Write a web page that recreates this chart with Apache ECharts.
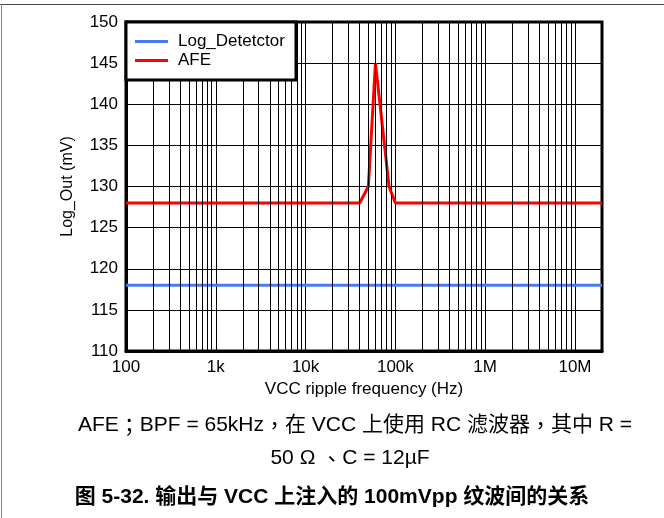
<!DOCTYPE html>
<html>
<head>
<meta charset="utf-8">
<script src="https://cdn.jsdelivr.net/npm/echarts@6/dist/echarts.min.js"></script>
<style>
html,body{margin:0;padding:0;background:#fff;}
#c{width:664px;height:518px;}
</style>
</head>
<body>
<div id="c"></div>
<script>
// ---- data ----
const xDecades = [100, 1000, 10000, 100000, 1000000, 10000000];
const xTickLabels = ['100', '1k', '10k', '100k', '1M', '10M'];
const xMin = 100, xMax = 20000000;
const yMin = 110, yMax = 150, yStep = 5;

const logDetFreq = [100, 20000000];
const logDetValues = [118, 118];

const afeFreq = [100, 40000, 50000, 60000, 85000, 100000, 20000000];
const afeValues = [128, 128, 130, 145, 130, 128, 128];

const seriesNames = ['Log_Detetctor', 'AFE'];
const captionLine1 = 'AFE；BPF = 65kHz，在 VCC 上使用 RC 滤波器，其中 R =';
const captionLine2 = '50 Ω 、C = 12µF';
const figureTitle = '图 5-32. 输出与 VCC 上注入的 100mVpp 纹波间的关系';

// minor log grid values (2..9 per decade)
const minorVals = [];
xDecades.forEach(d => { for (let m = 2; m <= 9; m++) { const v = m * d; if (v < xMax) minorVals.push(v); } });

const FONT = '"Liberation Sans", Arial, "Noto Sans CJK SC", sans-serif';
const PFONT = '"Noto Sans CJK TC", "Noto Sans CJK SC", sans-serif';

// build rich text: full-width punctuation in a centred-punctuation font
function richify(s) {
  return s.split(/([；，、])/).filter(x => x.length).map(x => /^[；，、]$/.test(x) ? '{p|' + x + '}' : '{a|' + x + '}').join('');
}
function richStyles(size, weight) {
  return {
    a: {fontFamily: FONT, fontSize: size, fontWeight: weight, fill: '#000', color: '#000'},
    p: {fontFamily: PFONT, fontSize: size, fontWeight: weight, fill: '#000', color: '#000'}
  };
}

const chart = echarts.init(document.getElementById('c'), null, {renderer: 'canvas'});

const option = {
  animation: false,
  textStyle: {fontFamily: FONT},
  grid: {left: 126, top: 22, right: 62, bottom: 167, show: true, borderColor: '#000', borderWidth: 3, containLabel: false},
  xAxis: {
    type: 'log', logBase: 10, min: xMin, max: xMax,
    name: 'VCC ripple frequency (Hz)', nameLocation: 'middle', nameGap: 27,
    nameTextStyle: {fontSize: 17, color: '#000', fontFamily: FONT},
    axisLine: {show: true, lineStyle: {color: '#000', width: 3}},
    axisTick: {show: false},
    axisLabel: {
      fontSize: 17, color: '#000', margin: 8, fontFamily: FONT,
      showMaxLabel: false,
      formatter: function (v) { const i = xDecades.findIndex(d => Math.abs(d - v) / d < 1e-6); return i >= 0 ? xTickLabels[i] : ''; }
    },
    splitLine: {show: true, lineStyle: {color: '#000', width: 1}}
  },
  yAxis: {
    type: 'value', min: yMin, max: yMax, interval: yStep,
    name: 'Log_Out (mV)', nameLocation: 'middle', nameGap: 50,
    nameTextStyle: {fontSize: 16, color: '#000', fontFamily: FONT},
    axisLine: {show: true, lineStyle: {color: '#000', width: 3}},
    axisTick: {show: false},
    axisLabel: {fontSize: 17, color: '#000', margin: 8, fontFamily: FONT},
    splitLine: {show: true, lineStyle: {color: '#000', width: 1}}
  },
  legend: {
    orient: 'vertical', left: 135, top: 33, padding: 0, itemGap: 2,
    itemWidth: 33, itemHeight: 3, icon: 'rect', z: 20,
    textStyle: {fontSize: 17, color: '#000', fontFamily: FONT, padding: [0, 0, 0, 5]},
    data: seriesNames
  },
  graphic: [
    {type: 'rect', z: 15, shape: {x: 126, y: 22, width: 170, height: 58}, style: {fill: '#fff', stroke: '#000', lineWidth: 3}},
    {type: 'line', z: 1, shape: {x1: 0, y1: 4.5, x2: 664, y2: 4.5}, style: {stroke: '#444', lineWidth: 1}},
    {type: 'line', z: 1, shape: {x1: 1.5, y1: 4, x2: 1.5, y2: 518}, style: {stroke: '#888', lineWidth: 1}},
    {type: 'text', z: 1, style: {text: richify(captionLine1), rich: richStyles(21, 'normal'), x: 355, y: 425, align: 'center', verticalAlign: 'middle', fill: '#000'}},
    {type: 'text', z: 1, style: {text: richify(captionLine2), rich: richStyles(21, 'normal'), x: 350, y: 458, align: 'center', verticalAlign: 'middle', fill: '#000'}},
    {type: 'text', z: 1, style: {text: figureTitle, x: 332, y: 497, align: 'center', verticalAlign: 'middle', font: 'bold 21px ' + FONT, fill: '#000'}}
  ],
  series: [
    {
      name: seriesNames[0], type: 'line', z: 3, symbol: 'none', silent: true,
      data: logDetFreq.map((f, i) => [f, logDetValues[i]]),
      lineStyle: {color: '#4a7cf0', width: 3}, itemStyle: {color: '#4a7cf0'},
      markLine: {
        silent: true, symbol: ['none', 'none'], label: {show: false}, animation: false,
        lineStyle: {color: '#000', width: 1, type: 'solid', opacity: 1},
        emphasis: {disabled: true},
        data: minorVals.map(v => ({xAxis: v}))
      }
    },
    {
      name: seriesNames[1], type: 'line', z: 4, symbol: 'none', silent: true,
      data: afeFreq.map((f, i) => [f, afeValues[i]]),
      lineStyle: {color: '#ff0000', width: 3}, itemStyle: {color: '#ff0000'}
    }
  ]
};
chart.setOption(option);
</script>
</body>
</html>
